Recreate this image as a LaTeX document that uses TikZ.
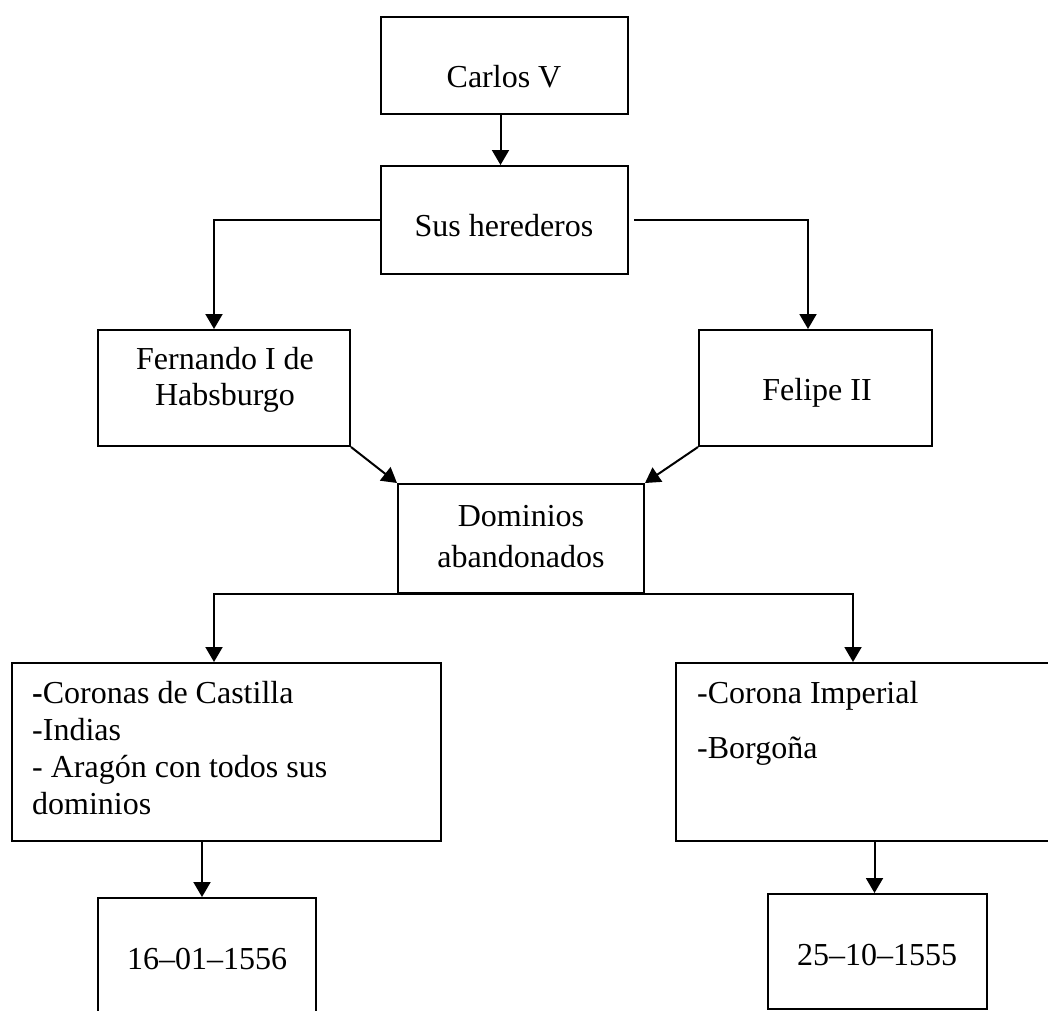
\documentclass[tikz,border=0pt]{standalone}
\usepackage{fontspec}
\setmainfont{Liberation Serif}
\usetikzlibrary{arrows.meta,positioning,calc}
\begin{document}
\begin{tikzpicture}[x=1pt,y=-1pt,
  bx/.style={draw=black,line width=2pt,rectangle,inner sep=0pt},
  arr/.style={line width=2pt,-{Triangle[length=15pt,width=17pt]}},
  tx/.style={inner sep=0pt,font=\fontsize{32}{37}\selectfont}]
\useasboundingbox (0,0) rectangle (1048,1010);
\clip (0,0) rectangle (1048,1010);
\fill[white] (0,0) rectangle (1048,1010);
% boxes
\node[bx,minimum width=247pt,minimum height=97pt] (carlos) at (504.5,65.5) {};
\node[bx,minimum width=247pt,minimum height=108pt] (sus) at (504.5,220) {};
\node[bx,minimum width=252pt,minimum height=116pt] (fern) at (224,388) {};
\node[bx,minimum width=233pt,minimum height=116pt] (felipe) at (815.5,388) {};
\node[bx,minimum width=246pt,minimum height=109pt] (dom) at (521,538.5) {};
\node[bx,minimum width=429pt,minimum height=178pt] (lbig) at (226.5,752) {};
\node[bx,minimum width=384pt,minimum height=178pt] (rbig) at (868,752) {};
\node[bx,minimum width=218pt,minimum height=130pt] (date1) at (207,963) {};
\node[bx,minimum width=219pt,minimum height=115pt] (date2) at (877.5,951.5) {};
% texts
\node[tx,anchor=base] (tcarlos) at (504,87) {Carlos V};
\node[tx,anchor=base] (tsus) at (504,236) {Sus herederos};
\node[tx,anchor=base] (tfern1) at (225,369) {Fernando I de};
\node[tx,anchor=base] (tfern2) at (225,405) {Habsburgo};
\node[tx,anchor=base] (tfelipe) at (817,400) {Felipe II};
\node[tx,anchor=base] (tdom1) at (521,526) {Dominios};
\node[tx,anchor=base] (tdom2) at (521,567) {abandonados};
\node[tx,anchor=base west] (tl1) at (32,703) {\textbf{-}Coronas de Castilla};
\node[tx,anchor=base west] (tl2) at (32,740) {-Indias};
\node[tx,anchor=base west] (tl3) at (32,777) {- Aragón con todos sus};
\node[tx,anchor=base west] (tl4) at (32,814) {dominios};
\node[tx,anchor=base west] (tr1) at (697,703) {-Corona Imperial};
\node[tx,anchor=base west] (tr2) at (697,758) {-Borgoña};
\node[tx,anchor=base] (td1) at (207,969) {16–01–1556};
\node[tx,anchor=base] (td2) at (877,965) {25–10–1555};
% connectors
\draw[arr] ([xshift=-4pt]carlos.south) -- ([xshift=-4pt]sus.north);
\draw[arr] (sus.west) -| ([xshift=-10pt]fern.north);
\draw[arr] ([xshift=5pt]sus.east) -| ([xshift=-7.5pt]felipe.north);
\draw[arr] (fern.south east) -- (dom.north west);
\draw[arr] (felipe.south west) -- (dom.north east);
\draw[arr] (dom.south) -| ([xshift=-12.5pt]lbig.north);
\draw[arr] (dom.south) -| ([xshift=-15pt]rbig.north);
\draw[arr] ([xshift=-5pt]lbig.south -| date1.north) -- ([xshift=-5pt]date1.north);
\draw[arr] ([xshift=-3pt]rbig.south -| date2.north) -- ([xshift=-3pt]date2.north);
\end{tikzpicture}
\end{document}
